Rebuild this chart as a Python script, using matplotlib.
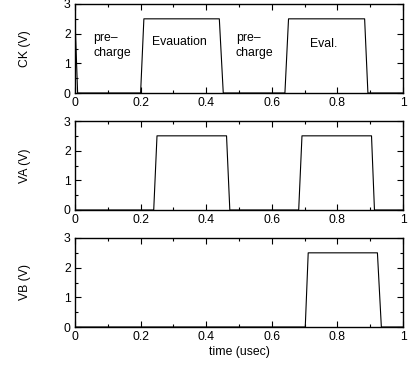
import numpy as np
import matplotlib.pyplot as plt
from matplotlib.ticker import MultipleLocator

plt.rcParams['font.family'] = ['Liberation Sans', 'DejaVu Sans']
plt.rcParams['font.size'] = 8.8

# waveform corner points (time in usec, voltage in V)
ck_t = [0.0, 0.008, 0.20, 0.21, 0.44, 0.452, 0.64, 0.651, 0.883, 0.893, 1.0]
ck_v = [2.5, 0.0, 0.0, 2.5, 2.5, 0.0, 0.0, 2.5, 2.5, 0.0, 0.0]

va_t = [0.0, 0.24, 0.25, 0.462, 0.472, 0.682, 0.692, 0.904, 0.913, 1.0]
va_v = [0.0, 0.0, 2.5, 2.5, 0.0, 0.0, 2.5, 2.5, 0.0, 0.0]

vb_t = [0.0, 0.702, 0.711, 0.922, 0.934, 1.0]
vb_v = [0.0, 0.0, 2.5, 2.5, 0.0, 0.0]

panels = [('CK (V)', ck_t, ck_v), ('VA (V)', va_t, va_v), ('VB (V)', vb_t, vb_v)]

# phase labels on the clock panel
notes = [(0.055, 1.6, 'pre\u2013\ncharge'), (0.235, 1.72, 'Evauation'),
         (0.49, 1.6, 'pre\u2013\ncharge'), (0.716, 1.65, 'Eval.')]

fig = plt.figure(figsize=(4.09, 3.66), dpi=100)
left, width = 75 / 409, 328 / 409
tops = [4, 121, 238]
h = 89

for (label, t, v), top in zip(panels, tops):
    ax = fig.add_axes([left, 1 - (top + h) / 366, width, h / 366])
    ax.plot(t, v, color='black', lw=0.8)
    ax.set_xlim(0, 1)
    ax.set_ylim(0, 3)
    ax.xaxis.set_major_locator(MultipleLocator(0.2))
    ax.xaxis.set_minor_locator(MultipleLocator(0.1))
    ax.yaxis.set_major_locator(MultipleLocator(1))
    ax.yaxis.set_minor_locator(MultipleLocator(0.5))
    ax.xaxis.set_major_formatter(plt.FuncFormatter(lambda x, p: '%g' % round(x, 2)))
    ax.tick_params(which='both', direction='in', top=True, right=True, width=0.8, pad=3)
    ax.tick_params(which='major', length=4)
    ax.tick_params(which='minor', length=2)
    for s in ax.spines.values():
        s.set_linewidth(1.0)
    ax.set_ylabel(label, labelpad=24)

    if label == 'CK (V)':
        for x, y, s in notes:
            ax.text(x, y, s, ha='left', va='center', linespacing=1.3)
    if label == 'VB (V)':
        ax.set_xlabel('time (usec)', labelpad=2)

fig.savefig('out.png', dpi=100)
